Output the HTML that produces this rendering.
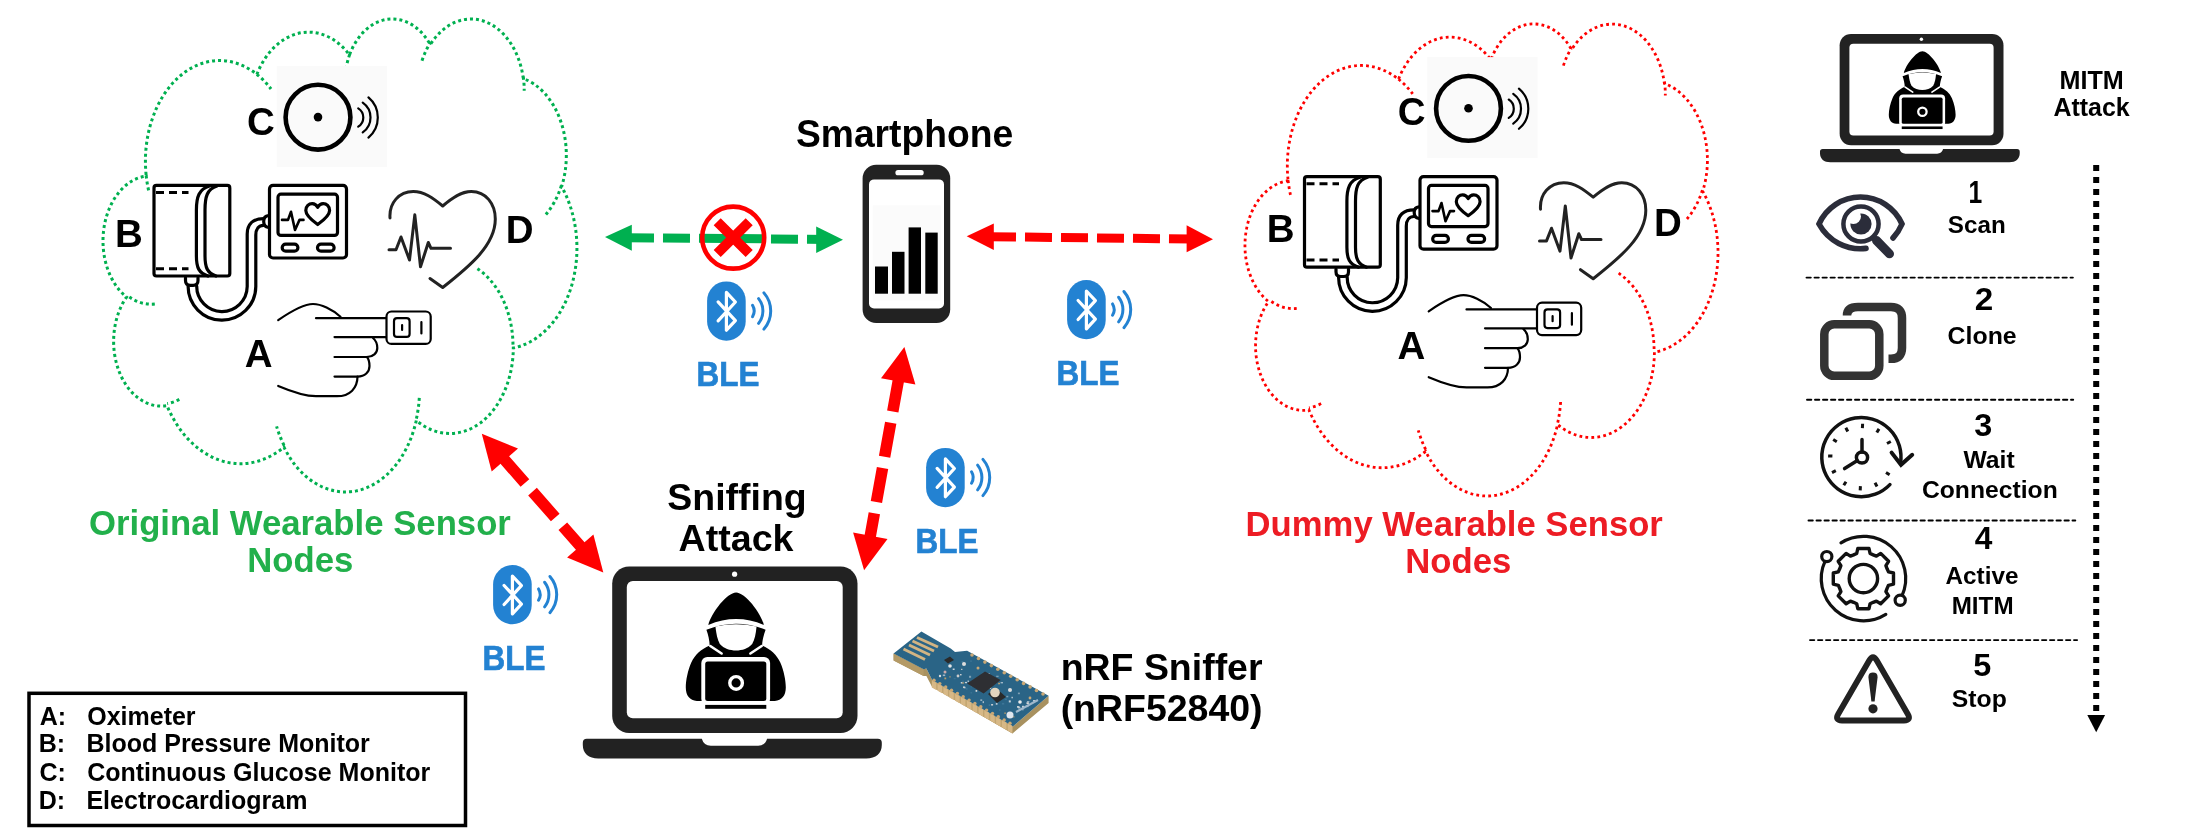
<!DOCTYPE html>
<html><head><meta charset="utf-8"><style>html,body{margin:0;padding:0;background:#fff;width:2192px;height:840px;overflow:hidden}svg{display:block;will-change:transform}</style></head>
<body><svg width="2192" height="840" viewBox="0 0 2192 840" font-family="'Liberation Sans', sans-serif" font-weight="bold"><path d="M146.1,174.7A74.0,100.6 0 0 1 256.9,74.4A58.4,79.5 0 0 1 349.5,55.0A47.8,65.1 0 0 1 430.3,44.6A53.2,72.2 0 0 1 523.3,78.5A58.4,79.6 0 0 1 561.6,186.7A74.2,100.9 0 0 1 513.3,348.0A63.4,86.1 0 0 1 416.3,420.4A74.0,100.9 0 0 1 284.0,447.2A84.6,115.4 0 0 1 167.0,405.7A47.8,64.8 0 0 1 126.5,297.1A47.6,65.1 0 0 1 145.7,176.2ZM154.8,304.0A47.6,65.1 0 0 1 127.1,295.3M179.3,399.4A47.8,64.8 0 0 1 167.2,403.6M284.0,445.3A74.0,100.9 0 0 1 276.6,426.3M419.3,397.8A74.0,100.9 0 0 1 416.4,418.7M477.4,268.7A63.4,86.1 0 0 1 513.0,346.8M561.4,185.5A58.4,79.6 0 0 1 545.6,214.8M523.3,76.8A53.2,72.2 0 0 1 524.2,90.7M422.0,60.7A53.2,72.2 0 0 1 430.2,43.1M346.0,69.1A47.8,65.1 0 0 1 349.9,53.9M256.8,74.3A74.0,100.6 0 0 1 271.0,89.0M148.6,190.3A74.0,100.6 0 0 1 146.1,174.7" fill="none" stroke="#00B050" stroke-width="3" stroke-dasharray="3 3"/>
<path d="M1288.0,179.4A73.8,100.4 0 0 1 1398.5,79.3A58.3,79.4 0 0 1 1490.9,59.9A47.7,64.9 0 0 1 1571.6,49.6A53.1,72.0 0 0 1 1664.4,83.4A58.3,79.4 0 0 1 1702.7,191.3A74.1,100.7 0 0 1 1654.4,352.3A63.3,85.9 0 0 1 1557.6,424.5A73.8,100.6 0 0 1 1425.6,451.3A84.4,115.2 0 0 1 1308.9,409.9A47.7,64.6 0 0 1 1268.5,301.5A47.5,64.9 0 0 1 1287.6,180.9ZM1296.7,308.4A47.5,64.9 0 0 1 1269.0,299.7M1321.1,403.6A47.7,64.6 0 0 1 1309.0,407.8M1425.6,449.4A73.8,100.6 0 0 1 1418.3,430.4M1560.6,402.0A73.8,100.6 0 0 1 1557.7,422.9M1618.6,273.2A63.3,85.9 0 0 1 1654.1,351.1M1702.4,190.2A58.3,79.4 0 0 1 1686.6,219.4M1664.5,81.7A53.1,72.0 0 0 1 1665.3,95.5M1563.4,65.6A53.1,72.0 0 0 1 1571.5,48.0M1487.5,74.0A47.7,64.9 0 0 1 1491.4,58.8M1398.5,79.2A73.8,100.4 0 0 1 1412.7,93.9M1290.5,194.9A73.8,100.4 0 0 1 1288.0,179.4" fill="none" stroke="#FF0000" stroke-width="2.8" stroke-dasharray="2.8 3.2"/>
<g id="icons"><rect x="276.7" y="65.9" width="110.4" height="101" fill="#fafafa"/><circle cx="318" cy="117.2" r="32.4" fill="none" stroke="#000" stroke-width="4.6"/><circle cx="318" cy="117.1" r="4.3" fill="#000"/><path d="M358.22,108.34A10.8,10.8 0 0 1 358.22,126.66" fill="none" stroke="#000" stroke-width="2.2" stroke-linecap="round"/><path d="M362.74,102.59A18.2,18.2 0 0 1 362.74,132.41" fill="none" stroke="#000" stroke-width="2.2" stroke-linecap="round"/><path d="M368.44,97.43A26.2,26.2 0 0 1 368.44,137.57" fill="none" stroke="#000" stroke-width="2.2" stroke-linecap="round"/><rect x="154" y="185.4" width="75.8" height="90.6" rx="2.5" fill="none" stroke="#000" stroke-width="3.2" stroke-linecap="round" stroke-linejoin="round"/><path d="M156,192.5H188.5M156,268.7H188.5" fill="none" stroke="#000" stroke-width="3" stroke-dasharray="8 5"/><path d="M209.5,186 C199,189 196.4,197 196.4,210 V256 C196.4,268 199,273 208,276" fill="none" stroke="#000" stroke-width="3.2" stroke-linecap="round" stroke-linejoin="round"/><path d="M217,186 C207,189 205,197 205,210 V256 C205,268 207.5,273 216,276" fill="none" stroke="#000" stroke-width="3.2" stroke-linecap="round" stroke-linejoin="round"/><path d="M185.5,277.8 V280.5 Q185.5,285.3 190.3,285.3 H193.2 Q198,285.3 198,280.5 V277.8" fill="none" stroke="#000" stroke-width="3.2" stroke-linecap="round" stroke-linejoin="round"/><path d="M188.1,286 A33.85,33.85 0 0 0 255.8,286.6 V235 C255.8,228.5 259,225.3 263.5,225.3" fill="none" stroke="#000" stroke-width="3.2" stroke-linecap="round" stroke-linejoin="round"/><path d="M196.7,286 A25.25,25.25 0 0 0 247.2,286.6 V234 C247.2,224 253,218.6 263.5,218.6" fill="none" stroke="#000" stroke-width="3.2" stroke-linecap="round" stroke-linejoin="round"/><path d="M268.5,215.6 Q263.7,216 263.7,221.4 Q263.7,226.8 268.5,227.3" fill="none" stroke="#000" stroke-width="3.2" stroke-linecap="round" stroke-linejoin="round"/><rect x="269.5" y="185.4" width="77" height="72.6" rx="3.5" fill="none" stroke="#000" stroke-width="3.2" stroke-linecap="round" stroke-linejoin="round"/><rect x="278" y="194.2" width="59.5" height="41.2" rx="3" fill="none" stroke="#000" stroke-width="3.2" stroke-linecap="round" stroke-linejoin="round"/><rect x="282.2" y="244.1" width="15.7" height="7.1" rx="3.5" fill="none" stroke="#000" stroke-width="3.2" stroke-linecap="round" stroke-linejoin="round"/><rect x="317.5" y="244.1" width="16.6" height="7.1" rx="3.5" fill="none" stroke="#000" stroke-width="3.2" stroke-linecap="round" stroke-linejoin="round"/><path d="M282,219.9 H288 L291,211.8 L295,230 L299.5,219.9 H303.5" fill="none" stroke="#000" stroke-width="2.6" stroke-linejoin="round" stroke-linecap="round"/><path d="M317.7,224.5 C310,219 305.8,215 305.8,210.5 C305.8,206.3 309,203.6 312.2,203.6 C314.8,203.6 316.6,205.2 317.7,207.3 C318.8,205.2 320.6,203.6 323.2,203.6 C326.4,203.6 329.6,206.3 329.6,210.5 C329.6,215 325.4,219 317.7,224.5 Z" fill="none" stroke="#000" stroke-width="3.2" stroke-linecap="round" stroke-linejoin="round"/><path d="M278.2,320.1 C290,312 303,304 313,304 C321,304 332,309 340.5,316.8" fill="none" stroke="#000" stroke-width="2.2" stroke-linecap="round" stroke-linejoin="round"/><path d="M316,318.2 H386" fill="none" stroke="#000" stroke-width="2.2" stroke-linecap="round" stroke-linejoin="round"/><path d="M334.5,337.1 H386" fill="none" stroke="#000" stroke-width="2.2" stroke-linecap="round" stroke-linejoin="round"/><path d="M373,338 C376.5,341 377.3,345 377.3,348 C377.3,353 373,357 367,357 H334.5" fill="none" stroke="#000" stroke-width="2.2" stroke-linecap="round" stroke-linejoin="round"/><path d="M367,357 C369,359.5 369.5,363 369.5,366 C369.5,372 365,376.6 357.5,376.6 H334.5" fill="none" stroke="#000" stroke-width="2.2" stroke-linecap="round" stroke-linejoin="round"/><path d="M357.5,376.6 C357.5,388 350,396.2 337,396.2 H316 C303,396.2 290,391 278.2,386" fill="none" stroke="#000" stroke-width="2.2" stroke-linecap="round" stroke-linejoin="round"/><rect x="386.5" y="311.5" width="44.2" height="32.4" rx="5" fill="none" stroke="#000" stroke-width="2.2" stroke-linecap="round" stroke-linejoin="round"/><rect x="394" y="318.2" width="15.6" height="18.7" rx="3" fill="none" stroke="#000" stroke-width="2.2" stroke-linecap="round" stroke-linejoin="round"/><path d="M402.1,325 V330 M421.4,322 V333.5" fill="none" stroke="#000" stroke-width="2.2" stroke-linecap="round" stroke-linejoin="round"/><path d="M390,218 C389,203 399,191.5 413.3,191.5 C424,191.5 433,198 442.7,206 C452,198 461,191.5 471.3,191.5 C486,191.5 495.3,204 495.3,219 C495.3,245 470,266 442.7,287.5 L430,278.5" fill="none" stroke="#222" stroke-width="3" stroke-linecap="round" stroke-linejoin="round"/><path d="M389,249.7 H396 L401,237 L409.5,260 L414.8,214.8 L420.5,266.8 L428.3,242.5 L431,248.3 H450.5" fill="none" stroke="#222" stroke-width="3" stroke-linecap="round" stroke-linejoin="round"/></g>
<use href="#icons" transform="translate(1150.5,-8.8)"/>
<text transform="translate(246.96,134.50) scale(1.0000,1)" font-size="38.5" fill="#000">C</text>
<text transform="translate(1397.66,124.50) scale(1.0000,1)" font-size="38.5" fill="#000">C</text>
<text transform="translate(114.91,247.20) scale(1.0000,1)" font-size="38.5" fill="#000">B</text>
<text transform="translate(1266.81,242.00) scale(1.0000,1)" font-size="38.5" fill="#000">B</text>
<text transform="translate(505.70,242.70) scale(1.0000,1)" font-size="38.5" fill="#000">D</text>
<text transform="translate(1653.90,236.30) scale(1.0000,1)" font-size="38.5" fill="#000">D</text>
<text transform="translate(244.84,367.10) scale(1.0000,1)" font-size="38.5" fill="#000">A</text>
<text transform="translate(1397.44,358.50) scale(1.0000,1)" font-size="38.5" fill="#000">A</text>
<line x1="627" y1="237.7" x2="830" y2="239.4" stroke="#00B050" stroke-width="9" stroke-dasharray="27 9"/>
<polygon points="605,237.1 631.8,224.7 631.8,250.8" fill="#00B050"/>
<polygon points="843,239.8 816.2,226.4 816.2,253.1" fill="#00B050"/>
<circle cx="733.2" cy="237.6" r="31" fill="none" stroke="#FF0000" stroke-width="4.6"/>
<path d="M717.2,221.7 L749.2,253.5 M749.2,221.7 L717.2,253.5" stroke="#FF0000" stroke-width="10"/>
<line x1="989" y1="236.7" x2="1192" y2="239" stroke="#FF0000" stroke-width="9" stroke-dasharray="27 9"/>
<polygon points="966.7,236.3 993.8,223.4 993.8,249.9" fill="#FF0000"/>
<polygon points="1213,239.2 1186.6,225.2 1186.6,252.3" fill="#FF0000"/>
<line x1="502.2" y1="457.0" x2="583.5" y2="549.8" stroke="#FF0000" stroke-width="11.5" stroke-dasharray="34.5 11.5"/>
<polygon points="481.8,433.7 491.7,471.6 518.0,448.5" fill="#FF0000"/>
<polygon points="603.3,572.4 567.1,557.6 593.4,534.5" fill="#FF0000"/>
<line x1="898.9" y1="377.5" x2="869.4" y2="540.7" stroke="#FF0000" stroke-width="11.5" stroke-dasharray="34.5 11.5"/>
<polygon points="904.4,347.0 881.0,378.3 915.4,384.6" fill="#FF0000"/>
<polygon points="864.1,570.2 853.1,532.6 887.5,538.9" fill="#FF0000"/>
<rect x="862.6" y="164.7" width="87.6" height="158.3" rx="13.6" fill="#222222"/>
<rect x="869" y="179.4" width="75" height="129" rx="5" fill="#fff"/>
<rect x="872.8" y="205.4" width="68" height="95" fill="#fbfbfb"/>
<rect x="895.4" y="170" width="28.3" height="5.3" rx="2.6" fill="#fff"/>
<rect x="875" y="266.5" width="13" height="27.2" fill="#000"/>
<rect x="892" y="251.8" width="12.5" height="41.9" fill="#000"/>
<rect x="908.6" y="227.4" width="12.4" height="66.3" fill="#000"/>
<rect x="925.3" y="232.6" width="12.4" height="61.1" fill="#000"/>
<defs><g id="bt"><rect x="0" y="0" width="38.6" height="59.3" rx="19.3" fill="#2382D2"/><path d="M11,20.5 L28.3,39.2 L19.3,48.8 L19.3,11 L28.3,20.6 L11,39.5" fill="none" stroke="#fff" stroke-width="3.2" stroke-linecap="round" stroke-linejoin="round"/><path d="M45.43,23.93A11,11 0 0 1 45.43,35.27" fill="none" stroke="#2382D2" stroke-width="3" stroke-linecap="round"/><path d="M51.50,17.27A19.8,19.8 0 0 1 51.50,41.93" fill="none" stroke="#2382D2" stroke-width="3" stroke-linecap="round"/><path d="M56.83,11.49A27.6,27.6 0 0 1 56.83,47.71" fill="none" stroke="#2382D2" stroke-width="3" stroke-linecap="round"/></g></defs>
<use href="#bt" x="707.1" y="281.4"/>
<text transform="translate(696.60,386.20) scale(0.8853,1)" font-size="35.5" fill="#2382D2" stroke="#2382D2" stroke-width="0.7">BLE</text>
<use href="#bt" x="1067.1" y="280"/>
<text transform="translate(1056.60,384.80) scale(0.8853,1)" font-size="35.5" fill="#2382D2" stroke="#2382D2" stroke-width="0.7">BLE</text>
<use href="#bt" x="926.1" y="447.9"/>
<text transform="translate(915.60,552.70) scale(0.8853,1)" font-size="35.5" fill="#2382D2" stroke="#2382D2" stroke-width="0.7">BLE</text>
<use href="#bt" x="493.1" y="565"/>
<text transform="translate(482.60,669.80) scale(0.8853,1)" font-size="35.5" fill="#2382D2" stroke="#2382D2" stroke-width="0.7">BLE</text>
<defs><g id="laptop"><rect x="29.4" y="0" width="245.3" height="166.5" rx="17" fill="#222222"/><rect x="44" y="14.6" width="215.9" height="137.2" rx="6" fill="#fff"/><circle cx="151.8" cy="7.7" r="2.6" fill="#fff"/><path d="M4,172.3 H119 Q121,179.2 128,179.2 H175.3 Q182.3,179.2 184.3,172.3 H295 Q299,172.3 299,176.3 V178.5 C299,187 293,192 283.5,192 H15.5 C6,192 0,187 0,178.5 V176.3 Q0,172.3 4,172.3 Z" fill="#222222"/><path d="M125.5,58.4 C128.5,46 144.5,25.9 153.3,25.9 C162.1,25.9 178.1,46 181.1,58.4 Q153.3,46.6 125.5,58.4 Z" fill="#000"/><path d="M123.6,63.2 Q153.2,51.2 182.8,63.2 C181,68 179.5,74 179.3,78.9 C188,83 194,88 197.5,96 C201,104 203,114 203,121 C203,129 199,134 192,134.5 L114,134.5 C107,134 103,129 103,121 C103,114 105,104 108.5,96 C112,88 118,83 126.9,78.9 C126.7,74 125.4,68 123.6,63.2 Z" fill="#000"/><path d="M132.6,60 C133.5,67 134.5,73 137,77.5 C141,82 147,84 153.2,84 C159.4,84 165.4,82 169.4,77.5 C172,73 173,67 173.8,60 Q153.2,55.5 132.6,60 Z" fill="#fff"/><path d="M127.5,79.5 L138.8,87 M178.9,79.5 L167.6,87" stroke="#fff" stroke-width="2.6" stroke-linecap="round"/><rect x="118.5" y="90.4" width="68.8" height="48" rx="6" fill="#fff"/><rect x="122.4" y="95.1" width="61.1" height="39.4" rx="2.5" fill="#000"/><rect x="122.4" y="138.4" width="61.1" height="3.9" fill="#000"/><circle cx="153.3" cy="116.4" r="6.3" fill="none" stroke="#fff" stroke-width="3.4"/></g></defs>
<use href="#laptop" transform="translate(582.8,566.5)"/>
<use href="#laptop" transform="translate(1820,34) scale(0.668)"/>
<g><polygon points="893.6,653.6 893.6,660.5 923.6,676 926.4,676 932.1,687 1012.5,733.5 1048.6,703 1048.6,695.7 1012.9,726.4 932.1,680 926.4,668.6 923.6,669.3" fill="#a8915f"/><polygon points="932.1,680 1012.9,726.4 1012.5,733.5 932.1,687" fill="#c2a571"/><polygon points="893.6,653.6 923.6,669.3 923.6,676 893.6,660.5" fill="#b49a66"/><polygon points="893.6,653.6 921.4,631.4 950.7,648.6 955,652 967.1,650.7 1048.6,695.7 1012.9,726.4 932.1,680 926.4,668.6 923.6,669.3" fill="#2a6486"/><polygon points="931.8,680.2 936.2,682.8 936.2,690.0 931.8,687.5" fill="#d7b886"/><circle cx="934.0" cy="680.3" r="1.7" fill="#c9a876"/><polygon points="937.6,683.5 942.0,686.1 942.0,693.3 937.6,690.8" fill="#d7b886"/><circle cx="939.8" cy="683.6" r="1.7" fill="#c9a876"/><polygon points="943.5,686.8 947.9,689.4 947.9,696.6 943.5,694.1" fill="#d7b886"/><circle cx="945.7" cy="686.9" r="1.7" fill="#c9a876"/><polygon points="949.3,690.1 953.7,692.7 953.7,699.9 949.3,697.4" fill="#d7b886"/><circle cx="951.5" cy="690.2" r="1.7" fill="#c9a876"/><polygon points="955.2,693.4 959.6,696.0 959.6,703.2 955.2,700.7" fill="#d7b886"/><circle cx="957.4" cy="693.5" r="1.7" fill="#c9a876"/><polygon points="961.0,696.7 965.4,699.3 965.4,706.5 961.0,704.0" fill="#d7b886"/><circle cx="963.2" cy="696.8" r="1.7" fill="#c9a876"/><polygon points="966.9,700.0 971.3,702.6 971.3,709.8 966.9,707.3" fill="#d7b886"/><circle cx="969.1" cy="700.1" r="1.7" fill="#c9a876"/><polygon points="972.7,703.4 977.1,706.0 977.1,713.2 972.7,710.7" fill="#d7b886"/><circle cx="974.9" cy="703.5" r="1.7" fill="#c9a876"/><polygon points="978.6,706.7 983.0,709.3 983.0,716.5 978.6,714.0" fill="#d7b886"/><circle cx="980.8" cy="706.8" r="1.7" fill="#c9a876"/><polygon points="984.4,710.0 988.8,712.6 988.8,719.8 984.4,717.3" fill="#d7b886"/><circle cx="986.6" cy="710.1" r="1.7" fill="#c9a876"/><polygon points="990.3,713.3 994.7,715.9 994.7,723.1 990.3,720.6" fill="#d7b886"/><circle cx="992.5" cy="713.4" r="1.7" fill="#c9a876"/><polygon points="996.1,716.6 1000.5,719.2 1000.5,726.4 996.1,723.9" fill="#d7b886"/><circle cx="998.3" cy="716.7" r="1.7" fill="#c9a876"/><polygon points="1002.0,719.9 1006.4,722.5 1006.4,729.7 1002.0,727.2" fill="#d7b886"/><circle cx="1004.2" cy="720.0" r="1.7" fill="#c9a876"/><polygon points="1007.8,723.2 1012.2,725.8 1012.2,733.0 1007.8,730.5" fill="#d7b886"/><circle cx="1010.0" cy="723.3" r="1.7" fill="#c9a876"/><circle cx="972.0" cy="655.0" r="1.8" fill="#c9a876"/><circle cx="978.5" cy="658.5" r="1.8" fill="#c9a876"/><circle cx="984.9" cy="662.1" r="1.8" fill="#c9a876"/><circle cx="991.4" cy="665.6" r="1.8" fill="#c9a876"/><circle cx="997.8" cy="669.2" r="1.8" fill="#c9a876"/><circle cx="1004.3" cy="672.7" r="1.8" fill="#c9a876"/><circle cx="1010.7" cy="676.3" r="1.8" fill="#c9a876"/><circle cx="1017.2" cy="679.8" r="1.8" fill="#c9a876"/><circle cx="1023.6" cy="683.4" r="1.8" fill="#c9a876"/><circle cx="1030.1" cy="686.9" r="1.8" fill="#c9a876"/><circle cx="1036.5" cy="690.5" r="1.8" fill="#c9a876"/><circle cx="1043.0" cy="694.0" r="1.8" fill="#c9a876"/><line x1="917" y1="637.5" x2="938" y2="647" stroke="#d2b483" stroke-width="3"/><line x1="912.5" y1="641" x2="934" y2="651" stroke="#d2b483" stroke-width="3"/><line x1="909" y1="645" x2="930" y2="655" stroke="#d2b483" stroke-width="3"/><line x1="903.5" y1="649" x2="925" y2="659.5" stroke="#d2b483" stroke-width="3"/><rect x="966.3" y="688.0" width="1.1" height="1.8" fill="#3d7596"/><rect x="961.1" y="668.8" width="1.3" height="1.1" fill="#d9d9d9"/><rect x="975.6" y="690.0" width="1.6" height="1.8" fill="#d9d9d9"/><rect x="953.7" y="678.1" width="1.9" height="1.1" fill="#3d7596"/><rect x="982.7" y="701.2" width="1.1" height="1.9" fill="#c8d2da"/><rect x="963.7" y="686.8" width="1.9" height="1.6" fill="#9fb6c6"/><rect x="991.1" y="704.1" width="2.0" height="1.4" fill="#d9d9d9"/><rect x="980.3" y="699.4" width="1.9" height="1.5" fill="#9fb6c6"/><rect x="998.1" y="682.8" width="1.9" height="1.5" fill="#b89c6a"/><rect x="981.7" y="672.7" width="2.2" height="1.1" fill="#3d7596"/><rect x="973.8" y="679.4" width="2.1" height="1.3" fill="#7fa0b4"/><rect x="1013.2" y="716.2" width="1.2" height="1.3" fill="#b89c6a"/><rect x="1017.9" y="707.5" width="1.1" height="1.6" fill="#3d7596"/><rect x="1017.9" y="692.6" width="2.0" height="1.6" fill="#7fa0b4"/><rect x="993.1" y="691.9" width="2.4" height="1.5" fill="#9fb6c6"/><rect x="988.7" y="704.3" width="1.5" height="1.6" fill="#3d7596"/><rect x="1000.2" y="696.4" width="1.6" height="1.7" fill="#3d7596"/><rect x="952.7" y="668.5" width="1.9" height="1.5" fill="#c8d2da"/><rect x="962.3" y="680.6" width="1.4" height="1.4" fill="#3d7596"/><rect x="1004.3" y="712.5" width="1.6" height="1.3" fill="#b89c6a"/><rect x="960.1" y="674.0" width="1.4" height="1.4" fill="#d9d9d9"/><rect x="988.4" y="673.2" width="1.2" height="1.2" fill="#c8d2da"/><rect x="961.8" y="682.4" width="2.2" height="1.2" fill="#b89c6a"/><rect x="963.1" y="686.4" width="1.6" height="1.6" fill="#d9d9d9"/><rect x="1026.5" y="702.3" width="2.4" height="1.7" fill="#d9d9d9"/><rect x="1004.7" y="698.6" width="2.2" height="1.4" fill="#3d7596"/><rect x="970.5" y="692.2" width="1.6" height="1.2" fill="#3d7596"/><rect x="1022.1" y="709.2" width="1.5" height="1.1" fill="#9fb6c6"/><rect x="942.8" y="674.5" width="2.4" height="1.6" fill="#9fb6c6"/><rect x="949.4" y="676.2" width="1.2" height="1.3" fill="#b89c6a"/><rect x="973.7" y="684.3" width="1.2" height="1.5" fill="#9fb6c6"/><rect x="1022.7" y="708.0" width="1.1" height="1.1" fill="#7fa0b4"/><rect x="970.7" y="686.3" width="1.2" height="1.0" fill="#3d7596"/><rect x="1022.0" y="705.8" width="2.0" height="1.9" fill="#c8d2da"/><rect x="1001.9" y="702.9" width="2.3" height="1.7" fill="#3d7596"/><rect x="967.5" y="680.6" width="1.5" height="1.2" fill="#c8d2da"/><rect x="991.5" y="689.3" width="1.3" height="1.8" fill="#3d7596"/><rect x="1033.1" y="700.0" width="2.2" height="1.7" fill="#c8d2da"/><rect x="969.0" y="675.8" width="2.1" height="2.0" fill="#7fa0b4"/><rect x="1008.8" y="700.4" width="2.0" height="2.0" fill="#c8d2da"/><rect x="996.2" y="675.7" width="2.4" height="1.4" fill="#7fa0b4"/><rect x="960.8" y="682.0" width="1.5" height="1.5" fill="#c8d2da"/><rect x="1026.7" y="705.4" width="1.7" height="1.7" fill="#9fb6c6"/><rect x="999.2" y="709.4" width="1.2" height="1.4" fill="#3d7596"/><rect x="995.8" y="703.1" width="1.7" height="1.6" fill="#c8d2da"/><rect x="970.2" y="660.4" width="1.6" height="1.4" fill="#3d7596"/><rect x="1026.9" y="701.3" width="2.5" height="1.0" fill="#c8d2da"/><rect x="994.1" y="692.2" width="1.2" height="1.8" fill="#3d7596"/><rect x="1027.6" y="704.2" width="1.2" height="1.5" fill="#7fa0b4"/><rect x="961.5" y="661.0" width="2.0" height="1.5" fill="#3d7596"/><rect x="1018.2" y="707.2" width="2.2" height="1.2" fill="#c8d2da"/><rect x="964.9" y="681.9" width="2.1" height="1.3" fill="#c8d2da"/><rect x="1000.6" y="682.0" width="2.4" height="1.4" fill="#9fb6c6"/><rect x="987.6" y="684.0" width="1.6" height="1.9" fill="#d9d9d9"/><rect x="989.4" y="687.0" width="1.8" height="1.9" fill="#d9d9d9"/><rect x="1011.5" y="696.8" width="1.3" height="1.5" fill="#c8d2da"/><rect x="1006.3" y="695.8" width="2.0" height="1.5" fill="#7fa0b4"/><rect x="994.5" y="680.7" width="1.1" height="1.2" fill="#d9d9d9"/><rect x="944.4" y="677.5" width="1.8" height="1.8" fill="#b89c6a"/><rect x="1017.0" y="706.1" width="2.5" height="1.6" fill="#d9d9d9"/><circle cx="950" cy="666" r="1.8" fill="#e6e6e6"/><circle cx="945" cy="672" r="1.5" fill="#caa"/><circle cx="964" cy="664" r="2" fill="#ddd"/><circle cx="978" cy="668" r="1.5" fill="#c9a876"/><circle cx="990" cy="678" r="1.2" fill="#c9a876"/><circle cx="1010" cy="690" r="2" fill="#ddd"/><circle cx="1020" cy="702" r="1.8" fill="#eee"/><circle cx="958" cy="676" r="1.4" fill="#ccc"/><circle cx="940" cy="676" r="1.2" fill="#ddd"/><circle cx="1030" cy="698" r="1.4" fill="#c9a876"/><polygon points="944,660 950,656.5 954,660 948,663.5" fill="#2a2a2a"/><polygon points="967.1,683.6 985,671.4 1000.7,680 983.6,693.6" fill="#2e2f33"/><polygon points="988,694 996,688 1006,697 997,703" fill="#2a2a2a"/><circle cx="995" cy="692.5" r="4.8" fill="#e3d6bf"/><circle cx="1010" cy="715" r="3.5" fill="#dfe6ee"/><path d="M1016,712 L1038,700" stroke="#9fb8cc" stroke-width="2"/></g>
<text transform="translate(795.98,146.80) scale(0.9599,1)" font-size="38.8" fill="#000">Smartphone</text>
<text transform="translate(89.01,535.10) scale(0.9644,1)" font-size="36.0" fill="#22B04B">Original Wearable Sensor</text>
<text transform="translate(247.17,572.30) scale(0.9642,1)" font-size="36.0" fill="#22B04B">Nodes</text>
<text transform="translate(1245.57,536.10) scale(0.9627,1)" font-size="36.0" fill="#ED1C24">Dummy Wearable Sensor</text>
<text transform="translate(1405.17,573.30) scale(0.9642,1)" font-size="36.0" fill="#ED1C24">Nodes</text>
<text transform="translate(667.28,509.90) scale(0.9989,1)" font-size="37.5" fill="#000">Sniffing</text>
<text transform="translate(678.57,550.90) scale(1.0031,1)" font-size="37.5" fill="#000">Attack</text>
<text transform="translate(1060.68,679.90) scale(0.9992,1)" font-size="37.5" fill="#000">nRF Sniffer</text>
<text transform="translate(1060.63,720.70) scale(0.9991,1)" font-size="37.5" fill="#000">(nRF52840)</text>
<text transform="translate(2059.49,88.75) scale(0.9861,1)" font-size="25.5" fill="#000">MITM</text>
<text transform="translate(2053.45,116.00) scale(0.9791,1)" font-size="25.5" fill="#000">Attack</text>
<text transform="translate(1968.62,203.30) scale(0.7962,1)" font-size="31" fill="#000">1</text>
<text transform="translate(1947.87,232.90) scale(1.0529,1)" font-size="23" fill="#000">Scan</text>
<text transform="translate(1974.80,310.00) scale(1.0731,1)" font-size="31" fill="#000">2</text>
<text transform="translate(1947.61,344.30) scale(1.0805,1)" font-size="23" fill="#000">Clone</text>
<text transform="translate(1974.35,436.00) scale(1.0452,1)" font-size="31" fill="#000">3</text>
<text transform="translate(1963.40,468.00) scale(1.0743,1)" font-size="23" fill="#000">Wait</text>
<text transform="translate(1921.91,497.70) scale(1.0741,1)" font-size="23" fill="#000">Connection</text>
<text transform="translate(1974.68,548.80) scale(1.0215,1)" font-size="31" fill="#000">4</text>
<text transform="translate(1945.57,584.30) scale(1.0559,1)" font-size="23" fill="#000">Active</text>
<text transform="translate(1951.70,614.30) scale(1.0528,1)" font-size="23" fill="#000">MITM</text>
<text transform="translate(1973.23,676.30) scale(1.0452,1)" font-size="31" fill="#000">5</text>
<text transform="translate(1951.86,707.10) scale(1.0758,1)" font-size="23" fill="#000">Stop</text>
<line x1="1806.5" y1="277.6" x2="2072.9" y2="277.6" stroke="#000" stroke-width="1.9" stroke-linecap="round" stroke-dasharray="4.3 3.7"/>
<line x1="1807" y1="399.8" x2="2073.2" y2="399.8" stroke="#000" stroke-width="1.9" stroke-linecap="round" stroke-dasharray="4.3 3.7"/>
<line x1="1808.5" y1="520.5" x2="2075.3" y2="520.5" stroke="#000" stroke-width="1.9" stroke-linecap="round" stroke-dasharray="4.3 3.7"/>
<line x1="1810" y1="640.1" x2="2077.1" y2="640.1" stroke="#000" stroke-width="1.9" stroke-linecap="round" stroke-dasharray="4.3 3.7"/>
<line x1="2096.2" y1="165" x2="2096.2" y2="711" stroke="#000" stroke-width="6" stroke-dasharray="6 6"/>
<polygon points="2087.3,715 2105.1,715 2096.2,732.2" fill="#000"/>
<path d="M1866,248.4 A47.2,47.2 0 0 1 1819,224 A45.4,45.4 0 0 1 1902,224 A47.2,47.2 0 0 1 1893,238" fill="none" stroke="#2b2d3a" stroke-width="5.6" stroke-linecap="round" stroke-linejoin="miter"/>
<circle cx="1861" cy="224" r="10.6" fill="#2b2d3a"/>
<circle cx="1853.4" cy="216.4" r="7.6" fill="#fff"/>
<circle cx="1861" cy="224" r="17.6" fill="none" stroke="#2b2d3a" stroke-width="4.5"/>
<line x1="1872" y1="236" x2="1878" y2="242" stroke="#2b2d3a" stroke-width="4.5"/>
<line x1="1876.5" y1="240.5" x2="1889.5" y2="253.8" stroke="#2b2d3a" stroke-width="9" stroke-linecap="round"/>
<rect x="1824.3" y="324.3" width="55" height="51.5" rx="10" fill="none" stroke="#333" stroke-width="8.5"/>
<path d="M1847,315.5 Q1847,307 1858,307 H1891 Q1902,307 1902,318 V348 Q1902,358.8 1891,358.8 H1888.5" fill="none" stroke="#333" stroke-width="8.5"/>
<path d="M1889.9,484.6 A39.6,39.6 0 1 1 1900.5,463.3" fill="none" stroke="#111" stroke-width="3.5" stroke-linecap="round"/>
<path d="M1891.6,452.6 L1901,464.8 L1912.2,454.8" fill="none" stroke="#111" stroke-width="4" stroke-linecap="round" stroke-linejoin="miter"/>
<line x1="1862.4" y1="428.1" x2="1862.6" y2="423.8" stroke="#111" stroke-width="3"/>
<line x1="1876.8" y1="432.5" x2="1879.0" y2="428.9" stroke="#111" stroke-width="3"/>
<line x1="1887.0" y1="443.5" x2="1890.8" y2="441.5" stroke="#111" stroke-width="3"/>
<line x1="1886.0" y1="472.5" x2="1889.6" y2="474.7" stroke="#111" stroke-width="3"/>
<line x1="1875.0" y1="482.7" x2="1877.0" y2="486.5" stroke="#111" stroke-width="3"/>
<line x1="1860.4" y1="486.1" x2="1860.2" y2="490.4" stroke="#111" stroke-width="3"/>
<line x1="1846.0" y1="481.7" x2="1843.8" y2="485.3" stroke="#111" stroke-width="3"/>
<line x1="1835.8" y1="470.7" x2="1832.0" y2="472.7" stroke="#111" stroke-width="3"/>
<line x1="1832.4" y1="456.1" x2="1828.1" y2="455.9" stroke="#111" stroke-width="3"/>
<line x1="1836.8" y1="441.7" x2="1833.2" y2="439.5" stroke="#111" stroke-width="3"/>
<line x1="1847.8" y1="431.5" x2="1845.8" y2="427.7" stroke="#111" stroke-width="3"/>
<circle cx="1862" cy="457.5" r="5.6" fill="none" stroke="#111" stroke-width="3.5"/>
<path d="M1862,451.9 V439.5 M1857.4,460.6 L1844.6,468.6" stroke="#111" stroke-width="3.5" stroke-linecap="round"/>
<path d="M1856.7,553.5 L1857.8,548.5 L1869.0,548.5 L1870.1,553.5 L1873.2,554.9 L1876.4,556.1 L1880.7,553.4 L1888.6,561.3 L1885.9,565.6 L1887.1,568.8 L1888.5,571.9 L1893.5,573.0 L1893.5,584.2 L1888.5,585.3 L1887.1,588.4 L1885.9,591.6 L1888.6,595.9 L1880.7,603.8 L1876.4,601.1 L1873.2,602.3 L1870.1,603.7 L1869.0,608.7 L1857.8,608.7 L1856.7,603.7 L1853.6,602.3 L1850.4,601.1 L1846.1,603.8 L1838.2,595.9 L1840.9,591.6 L1839.7,588.4 L1838.3,585.3 L1833.3,584.2 L1833.3,573.0 L1838.3,571.9 L1839.7,568.8 L1840.9,565.6 L1838.2,561.3 L1846.1,553.4 L1850.4,556.1 L1853.6,554.9Z" fill="none" stroke="#111" stroke-width="3.4" stroke-linejoin="round"/>
<circle cx="1863.4" cy="578.6" r="14.2" fill="none" stroke="#111" stroke-width="3.4"/>
<path d="M1841.0,542.8 A42.2,42.2 0 0 1 1902.0,595.8" fill="none" stroke="#111" stroke-width="3.2" stroke-linecap="round"/>
<path d="M1885.8,614.4 A42.2,42.2 0 0 1 1825.2,560.8" fill="none" stroke="#111" stroke-width="3.2" stroke-linecap="round"/>
<circle cx="1826.8" cy="556.6" r="5.1" fill="#fff" stroke="#111" stroke-width="3.2"/>
<circle cx="1900.2" cy="600.3" r="5.1" fill="#fff" stroke="#111" stroke-width="3.2"/>
<path d="M1876.76,660.49 Q1873.00,654.00 1869.24,660.49 L1838.26,714.01 Q1834.50,720.50 1842.00,720.50 L1904.00,720.50 Q1911.50,720.50 1907.74,714.01 Z" fill="none" stroke="#222222" stroke-width="5.8"/>
<path d="M1868.4,677 Q1868.4,672.6 1873,672.6 Q1877.6,672.6 1877.6,677 L1874.6,701.5 H1871.4 Z" fill="#222222"/>
<circle cx="1873" cy="708.8" r="4.6" fill="#222222"/>
<rect x="29" y="693.3" width="436.5" height="132.2" fill="none" stroke="#000" stroke-width="3.5"/>
<text transform="translate(39.65,725.10) scale(1.0000,1)" font-size="25" fill="#000">A:</text>
<text transform="translate(87.20,725.10) scale(1.0000,1)" font-size="25" fill="#000">Oximeter</text>
<text transform="translate(38.65,752.30) scale(1.0000,1)" font-size="25" fill="#000">B:</text>
<text transform="translate(86.45,752.30) scale(1.0000,1)" font-size="25" fill="#000">Blood Pressure Monitor</text>
<text transform="translate(39.40,780.50) scale(1.0000,1)" font-size="25" fill="#000">C:</text>
<text transform="translate(87.20,780.50) scale(1.0000,1)" font-size="25" fill="#000">Continuous Glucose Monitor</text>
<text transform="translate(38.65,808.50) scale(1.0000,1)" font-size="25" fill="#000">D:</text>
<text transform="translate(86.45,808.50) scale(1.0000,1)" font-size="25" fill="#000">Electrocardiogram</text></svg></body></html>
